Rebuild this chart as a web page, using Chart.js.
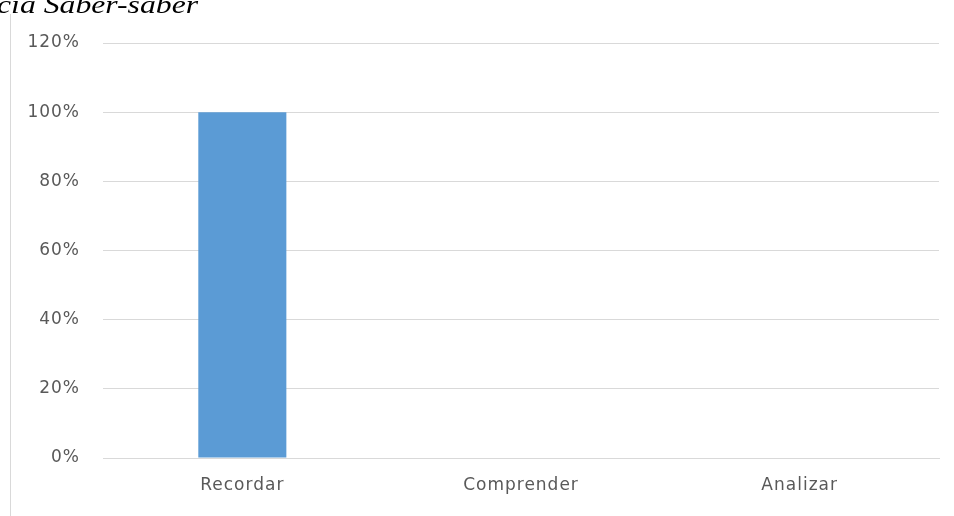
<!DOCTYPE html>
<html>
<head>
<meta charset="utf-8">
<script src="https://cdn.jsdelivr.net/npm/chart.js@4/dist/chart.umd.min.js"></script>
<style>
  html, body { margin: 0; padding: 0; background: #fff; overflow: hidden; }
  #wrap { position: relative; width: 954px; height: 516px; }
  #c { position: absolute; left: 0; top: 0; }
  #title { position: absolute; left: -3px; top: -10px; font-family: "Liberation Serif", serif; font-style: italic; font-size: 26px; color: #000; white-space: nowrap; transform-origin: 0 0; transform: scaleX(1.22); }
  #vline { position: absolute; left: 10px; top: 14px; width: 1px; height: 502px; background: #d9d9d9; }
</style>
</head>
<body>
<div id="wrap">
  <canvas id="c" width="954" height="516"></canvas>
  <div id="vline"></div>
  <div id="title">cia Saber-saber</div>
</div>
<script>
const categories = ["Recordar", "Comprender", "Analizar"];
const values = [100, 0, 0];
const yTicks = [0, 20, 40, 60, 80, 100, 120];

const spacing = {
  id: 'spacing',
  beforeInit(chart) { chart.ctx.letterSpacing = '1px'; },
  beforeLayout(chart) { chart.ctx.letterSpacing = '1px'; },
  beforeDraw(chart) { chart.ctx.letterSpacing = '1px'; }
};

new Chart(document.getElementById('c'), {
  type: 'bar',
  data: {
    labels: categories,
    datasets: [{
      data: values,
      backgroundColor: '#5b9bd5',
      borderWidth: 0,
      categoryPercentage: 1,
      barPercentage: 0.316
    }]
  },
  options: {
    responsive: false,
    animation: false,
    layout: { padding: { left: 0, right: 15, top: 43, bottom: 0 } },
    plugins: { legend: { display: false }, tooltip: { enabled: false } },
    scales: {
      x: {
        grid: { display: false, drawTicks: false },
        border: { display: true, color: '#d9d9d9', width: 1 },
        ticks: { color: '#595959', font: { family: 'DejaVu Sans', size: 17 }, padding: 17, maxRotation: 0 },
        afterFit(s) { s.height = 58; }
      },
      y: {
        min: 0, max: 120,
        afterBuildTicks(s) { s.ticks = yTicks.map(v => ({ value: v })); },
        grid: { color: '#d9d9d9', lineWidth: 1, drawTicks: false },
        border: { display: false },
        ticks: { color: '#595959', font: { family: 'DejaVu Sans', size: 17 }, padding: 23, callback: v => v + '%' },
        afterFit(s) { s.width = 103; }
      }
    }
  },
  plugins: [spacing]
});
</script>
</body>
</html>
